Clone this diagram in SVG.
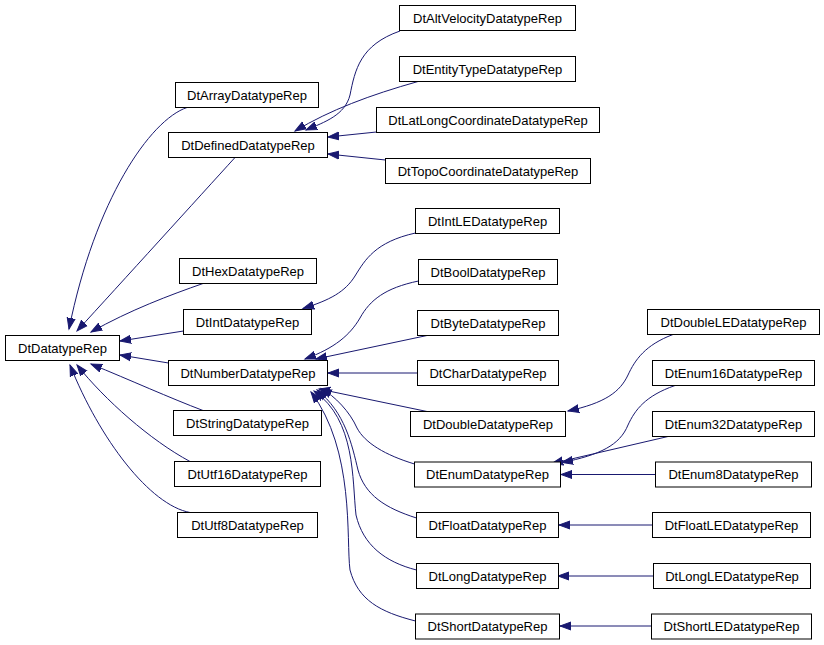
<svg xmlns="http://www.w3.org/2000/svg" width="824" height="645" viewBox="0 0 824 645">
<style>
.node rect{fill:#fff;stroke:#000;stroke-width:1}
.node text{font-family:"Liberation Sans",Arial,Helvetica,sans-serif;font-size:13px;text-anchor:middle;fill:#000}
.edge path{fill:none;stroke:#191970;stroke-width:1;marker-end:url(#arr)}
</style>
<defs>
<marker id="arr" markerUnits="userSpaceOnUse" markerWidth="13" markerHeight="10" viewBox="0 -5 13 10" refX="11" refY="0" orient="auto">
<path d="M0,-4 L11,0 L0,4 z" fill="#191970" stroke="#191970" stroke-width="1"/>
</marker>
</defs>
<rect width="824" height="645" fill="#fff"/>
<g id="edges" class="edge">
<path d="M187,107.5 C150,120 95,200 69,329"/>
<path d="M235,157.5 C200,196 120,284 77,331"/>
<path d="M203,283.5 C170,295 130,310 91,332"/>
<path d="M183.5,331 L120,341"/>
<path d="M168.5,363 L120,355"/>
<path d="M203,410.5 C170,398 130,380 91,364"/>
<path d="M190,461.5 C150,440 105,400 77,365"/>
<path d="M190,512.5 C150,505 100,440 70,365"/>
<path d="M400,31 C360,45 355,70 350,95 C345,115 325,122 306,130"/>
<path d="M418,81.5 C370,95 330,110 295,131"/>
<path d="M376.5,132 L328,137"/>
<path d="M385.5,160 L328,154"/>
<path d="M415.5,233 C375,242 365,260 355,276 C345,292 330,300 303,308.5"/>
<path d="M418.5,281 C385,288 370,300 360,318 C350,335 335,348 305,359"/>
<path d="M427,335.5 L316,359"/>
<path d="M417.5,373 L328,373"/>
<path d="M427,411.5 L319,389"/>
<path d="M414.5,464 C385,455 365,443 357,428 C350,412 335,396 321,388.5"/>
<path d="M416.5,518 C385,508 365,495 358,470 C352,445 345,412 317,390"/>
<path d="M416.5,570 C385,562 363,545 356,515 C352,480 356,420 314,391"/>
<path d="M415.5,621 C380,612 358,600 350,570 C346,540 355,450 311,392"/>
<path d="M673,334.5 C645,345 635,360 628,375 C620,392 605,403 568,411"/>
<path d="M675,385.5 C645,396 635,410 628,425 C620,445 600,455 562,462.5"/>
<path d="M668,436.5 L552,463.5"/>
<path d="M655.5,474.5 L561,474.5"/>
<path d="M652.5,525 L559,525"/>
<path d="M653.5,576 L558,576"/>
<path d="M651.5,626 L560,626"/>
</g>
<g id="n_DtDatatypeRep" class="node"><rect x="5.5" y="335.5" width="114" height="25"/><text x="62.5" y="352.5">DtDatatypeRep</text></g>
<g id="n_DtArrayDatatypeRep" class="node"><rect x="175.5" y="82.5" width="143" height="25"/><text x="247" y="99.5">DtArrayDatatypeRep</text></g>
<g id="n_DtDefinedDatatypeRep" class="node"><rect x="168.5" y="132.5" width="159" height="25"/><text x="248" y="149.5">DtDefinedDatatypeRep</text></g>
<g id="n_DtHexDatatypeRep" class="node"><rect x="179.5" y="258.5" width="137" height="25"/><text x="248" y="275.5">DtHexDatatypeRep</text></g>
<g id="n_DtIntDatatypeRep" class="node"><rect x="183.5" y="309.5" width="128" height="25"/><text x="247.5" y="326.5">DtIntDatatypeRep</text></g>
<g id="n_DtNumberDatatypeRep" class="node"><rect x="168.5" y="360.5" width="159" height="25"/><text x="248" y="377.5">DtNumberDatatypeRep</text></g>
<g id="n_DtStringDatatypeRep" class="node"><rect x="173.5" y="410.5" width="148" height="25"/><text x="247.5" y="427.5">DtStringDatatypeRep</text></g>
<g id="n_DtUtf16DatatypeRep" class="node"><rect x="174.5" y="461.5" width="146" height="25"/><text x="247.5" y="478.5">DtUtf16DatatypeRep</text></g>
<g id="n_DtUtf8DatatypeRep" class="node"><rect x="177.5" y="512.5" width="140" height="25"/><text x="247.5" y="529.5">DtUtf8DatatypeRep</text></g>
<g id="n_DtAltVelocityDatatypeRep" class="node"><rect x="399.5" y="5.5" width="176" height="25"/><text x="487.5" y="22.5">DtAltVelocityDatatypeRep</text></g>
<g id="n_DtEntityTypeDatatypeRep" class="node"><rect x="399.5" y="56.5" width="176" height="25"/><text x="487.5" y="73.5">DtEntityTypeDatatypeRep</text></g>
<g id="n_DtLatLongCoordinateDatatypeRep" class="node"><rect x="376.5" y="107.5" width="223" height="25"/><text x="488" y="124.5">DtLatLongCoordinateDatatypeRep</text></g>
<g id="n_DtTopoCoordinateDatatypeRep" class="node"><rect x="385.5" y="158.5" width="205" height="25"/><text x="488" y="175.5">DtTopoCoordinateDatatypeRep</text></g>
<g id="n_DtIntLEDatatypeRep" class="node"><rect x="415.5" y="208.5" width="144" height="25"/><text x="487.5" y="225.5">DtIntLEDatatypeRep</text></g>
<g id="n_DtBoolDatatypeRep" class="node"><rect x="418.5" y="259.5" width="139" height="25"/><text x="488" y="276.5">DtBoolDatatypeRep</text></g>
<g id="n_DtByteDatatypeRep" class="node"><rect x="417.5" y="310.5" width="141" height="25"/><text x="488" y="327.5">DtByteDatatypeRep</text></g>
<g id="n_DtCharDatatypeRep" class="node"><rect x="417.5" y="360.5" width="141" height="25"/><text x="488" y="377.5">DtCharDatatypeRep</text></g>
<g id="n_DtDoubleDatatypeRep" class="node"><rect x="410.5" y="411.5" width="155" height="25"/><text x="488" y="428.5">DtDoubleDatatypeRep</text></g>
<g id="n_DtEnumDatatypeRep" class="node"><rect x="414.5" y="462" width="146" height="25"/><text x="487.5" y="479">DtEnumDatatypeRep</text></g>
<g id="n_DtFloatDatatypeRep" class="node"><rect x="416.5" y="512.5" width="142" height="25"/><text x="487.5" y="529.5">DtFloatDatatypeRep</text></g>
<g id="n_DtLongDatatypeRep" class="node"><rect x="416.5" y="563.5" width="142" height="25"/><text x="487.5" y="580.5">DtLongDatatypeRep</text></g>
<g id="n_DtShortDatatypeRep" class="node"><rect x="415.5" y="614" width="144" height="25"/><text x="487.5" y="631">DtShortDatatypeRep</text></g>
<g id="n_DtDoubleLEDatatypeRep" class="node"><rect x="647.5" y="309.5" width="172" height="25"/><text x="733.5" y="326.5">DtDoubleLEDatatypeRep</text></g>
<g id="n_DtEnum16DatatypeRep" class="node"><rect x="652.5" y="360.5" width="162" height="25"/><text x="733.5" y="377.5">DtEnum16DatatypeRep</text></g>
<g id="n_DtEnum32DatatypeRep" class="node"><rect x="652.5" y="411.5" width="162" height="25"/><text x="733.5" y="428.5">DtEnum32DatatypeRep</text></g>
<g id="n_DtEnum8DatatypeRep" class="node"><rect x="655.5" y="462" width="156" height="25"/><text x="733.5" y="479">DtEnum8DatatypeRep</text></g>
<g id="n_DtFloatLEDatatypeRep" class="node"><rect x="652.5" y="512.5" width="158" height="25"/><text x="731.5" y="529.5">DtFloatLEDatatypeRep</text></g>
<g id="n_DtLongLEDatatypeRep" class="node"><rect x="653.5" y="563.5" width="157" height="25"/><text x="732" y="580.5">DtLongLEDatatypeRep</text></g>
<g id="n_DtShortLEDatatypeRep" class="node"><rect x="651.5" y="614" width="160" height="25"/><text x="731.5" y="631">DtShortLEDatatypeRep</text></g>
</svg>
